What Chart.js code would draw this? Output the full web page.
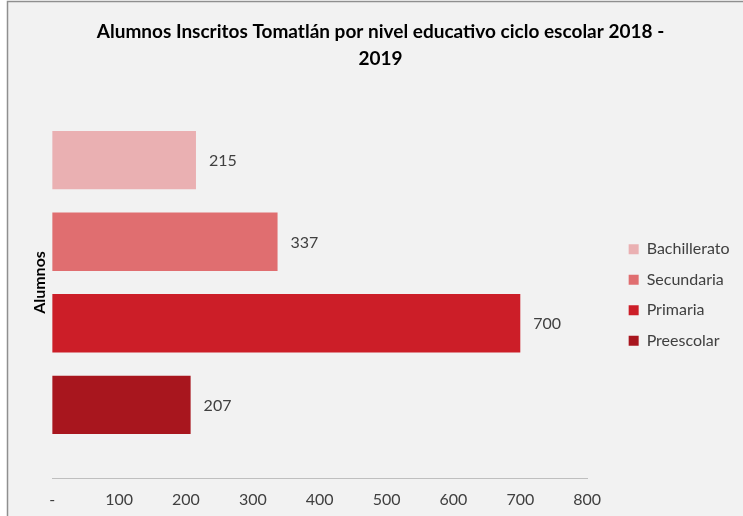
<!DOCTYPE html>
<html>
<head>
<meta charset="utf-8">
<script src="https://cdn.jsdelivr.net/npm/chart.js@4.4.1/dist/chart.umd.min.js"></script>
<style>
  html, body { margin: 0; padding: 0; background: #ffffff; }
  #wrap { position: relative; width: 743px; height: 516px; }
</style>
</head>
<body>
<div id="wrap"><canvas id="chart" width="743" height="516"></canvas></div>
<script>
// Alumnos inscritos Tomatlán 2018-2019, one bar per nivel educativo
const categories = ['Alumnos'];
const seriesNames = ['Bachillerato', 'Secundaria', 'Primaria', 'Preescolar'];
const seriesValues = [215, 337, 700, 207];
const seriesColors = ['#EAB0B2', '#E06E70', '#CC1E28', '#A8161E'];
const xTicks = [0, 100, 200, 300, 400, 500, 600, 700, 800];

const FONT = 'Lato, "Open Sans", sans-serif';
const TEXT = '#404040';

// grey frame and light background like the spreadsheet chart
const framePlugin = {
  id: 'frame',
  beforeDraw(chart) {
    const ctx = chart.ctx;
    ctx.save();
    ctx.fillStyle = '#ffffff';
    ctx.fillRect(0, 0, chart.width, chart.height);
    ctx.fillStyle = '#f2f2f2';
    ctx.fillRect(8, 2, chart.width - 8, chart.height - 2);
    ctx.strokeStyle = '#8f8f8f';
    ctx.lineWidth = 1.5;
    ctx.beginPath();
    ctx.moveTo(7.5, chart.height);
    ctx.lineTo(7.5, 1.5);
    ctx.lineTo(chart.width, 1.5);
    ctx.stroke();
    ctx.restore();
  }
};

// value labels to the right of each bar
const valueLabels = {
  id: 'valueLabels',
  afterDatasetsDraw(chart) {
    const ctx = chart.ctx;
    ctx.save();
    ctx.font = '16px ' + FONT;
    ctx.fillStyle = TEXT;
    ctx.textBaseline = 'middle';
    ctx.textAlign = 'left';
    chart.data.datasets.forEach((ds, i) => {
      chart.getDatasetMeta(i).data.forEach((bar, j) => {
        ctx.fillText(String(ds.data[j]), bar.x + 13, bar.y + 1);
      });
    });
    ctx.restore();
  }
};

const datasets = seriesNames.map((name, i) => ({
  label: name,
  data: [seriesValues[i]],
  backgroundColor: seriesColors[i],
  borderWidth: 0,
  categoryPercentage: 0.831,
  barPercentage: 0.716
}));

new Chart(document.getElementById('chart'), {
  type: 'bar',
  data: { labels: categories, datasets: datasets },
  options: {
    indexAxis: 'y',
    responsive: false,
    animation: false,
    layout: { padding: { left: 30, right: 12, top: 14, bottom: -4 } },
    plugins: {
      title: {
        display: true,
        text: ['Alumnos Inscritos Tomatlán por nivel educativo ciclo escolar 2018 -', '2019'],
        color: '#000000',
        font: { family: FONT, size: 19, weight: 'bold', lineHeight: 1.4 },
        padding: { top: 5, bottom: 14 }
      },
      legend: {
        position: 'right',
        title: { display: true, text: ' ', font: { size: 10 }, padding: { top: 18, bottom: 26 } },
        labels: {
          color: TEXT,
          font: { family: FONT, size: 16 },
          boxWidth: 10,
          boxHeight: 10,
          padding: 14.5
        }
      },
      tooltip: { enabled: false }
    },
    scales: {
      x: {
        min: 0,
        max: 800,
        afterBuildTicks(axis) { axis.ticks = xTicks.map(v => ({ value: v })); },
        grid: { display: false, drawTicks: false },
        border: { display: true, color: '#bfbfbf', width: 1 },
        ticks: {
          color: TEXT,
          font: { family: FONT, size: 16 },
          padding: 11,
          maxRotation: 0,
          callback: v => (v === 0 ? '-' : String(v))
        }
      },
      y: {
        grid: { display: false, drawTicks: false },
        border: { display: false },
        ticks: { display: false },
        title: {
          display: true,
          text: categories[0],
          color: '#000000',
          font: { family: FONT, size: 16, weight: 'bold' },
          padding: { top: 0, bottom: 3 }
        }
      },
      // empty axis on the right only keeps a gap before the legend
      gap: {
        axis: 'y',
        position: 'right',
        grid: { display: false, drawTicks: false },
        border: { display: false },
        ticks: { display: false },
        afterFit(axis) { axis.width = 27; }
      }
    }
  },
  plugins: [framePlugin, valueLabels]
});
</script>
</body>
</html>
